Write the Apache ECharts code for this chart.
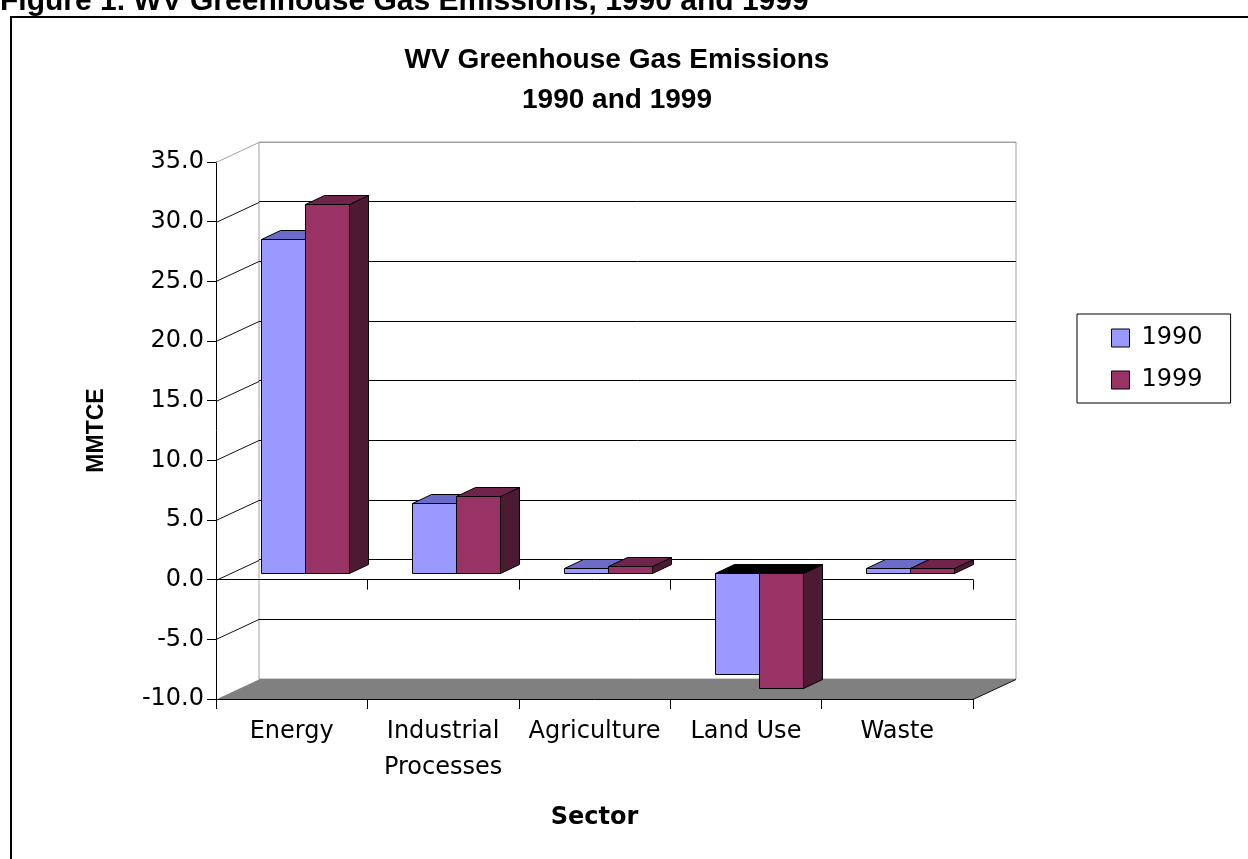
<!DOCTYPE html>
<html>
<head>
<meta charset="utf-8">
<script src="https://cdn.jsdelivr.net/npm/echarts@6/dist/echarts.min.js"></script>
<style>
html, body { margin: 0; padding: 0; background: #fff; }
#chart { width: 1248px; height: 859px; }
</style>
</head>
<body>
<div id="chart"></div>
<script>
var categories = ['Energy', 'Industrial\nProcesses', 'Agriculture', 'Land Use', 'Waste'];
var years = ['1990', '1999'];
var values1990 = [28.0, 5.8, 0.4, -8.5, 0.4];
var values1999 = [30.9, 6.4, 0.6, -9.7, 0.4];
var yMin = -10, yMax = 35, yStep = 5;
var wallTicks = [-5, 0, 5, 10, 15, 20, 25, 30, 35];

// fake 3d: front plane vs back wall offset, bar placement in depth
var FRONT = { left: 216, top: 162, width: 757, height: 537 };
var DX = 43, DY = -20;
var BAR_OX = 13, BAR_OY = -7;
var BAR_DX = 19, BAR_DY = -9;
var BAR_RATIO = 0.288;
var font = 'DejaVu Sans';

var chart = echarts.init(document.getElementById('chart'));

function barRenderer(side, faceCol, topCol, sideCol) {
	return function (params, api) {
		var idx = api.value(0), v = api.value(1);
		var base = api.coord([idx, 0]);
		var tip = api.coord([idx, v]);
		var bw = Math.round(api.size([1, 0])[0] * BAR_RATIO);
		var x0 = Math.round(base[0] + BAR_OX + (side === 0 ? -bw : 0)) + 0.5;
		var x1 = x0 + bw;
		var yTop = Math.round(Math.min(base[1], tip[1]) + BAR_OY) + 0.5;
		var yBot = Math.round(Math.max(base[1], tip[1]) + BAR_OY) + 0.5;
		var stroke = { stroke: '#000', lineWidth: 1 };
		return {
			type: 'group',
			children: [
				{ type: 'polygon', shape: { points: [[x1, yTop], [x1 + BAR_DX, yTop + BAR_DY], [x1 + BAR_DX, yBot + BAR_DY], [x1, yBot]] },
				  style: Object.assign({ fill: sideCol }, stroke) },
				{ type: 'polygon', shape: { points: [[x0, yTop], [x1, yTop], [x1 + BAR_DX, yTop + BAR_DY], [x0 + BAR_DX, yTop + BAR_DY]] },
				  style: Object.assign({ fill: v < 0 ? '#000' : topCol }, stroke) },
				{ type: 'rect', shape: { x: x0, y: yTop, width: bw, height: yBot - yTop },
				  style: Object.assign({ fill: faceCol }, stroke) }
			]
		};
	};
}

var option = {
	backgroundColor: '#fff',
	animation: false,
	title: {
		text: 'WV Greenhouse Gas Emissions\n1990 and 1999',
		left: 612,
		textAlign: 'center',
		top: 35,
		textStyle: { fontFamily: 'Liberation Sans', fontSize: 28, fontWeight: 'bold', color: '#000', lineHeight: 40 }
	},
	legend: {
		orient: 'vertical',
		left: 1077,
		top: 314,
		data: years,
		icon: 'rect',
		itemWidth: 18,
		itemHeight: 18,
		itemGap: 18,
		padding: [12, 28, 11, 34],
		borderColor: '#000',
		borderWidth: 1,
		selectedMode: false,
		itemStyle: { borderColor: '#000', borderWidth: 1 },
		textStyle: { fontFamily: font, fontSize: 24, color: '#000', lineHeight: 24, padding: [0, 0, 0, 7] }
	},
	graphic: [
		{ type: 'rect', silent: true, z: -10,
		  shape: { x: 11, y: 17, width: 1400, height: 1000 },
		  style: { fill: 'none', stroke: '#000', lineWidth: 2 } },
		{ type: 'text', x: 0, y: 2, silent: true,
		  style: { text: 'Figure 1. WV Greenhouse Gas Emissions, 1990 and 1999', font: 'bold 30px "Liberation Sans"', fill: '#000', verticalAlign: 'middle' } }
	],
	grid: [
		{ left: FRONT.left, top: FRONT.top, width: FRONT.width, height: FRONT.height },
		{ left: FRONT.left + DX, top: FRONT.top + DY, width: FRONT.width, height: FRONT.height,
		  show: true, borderColor: '#a0a0a0', borderWidth: 1, backgroundColor: 'transparent' }
	],
	xAxis: [
		{
			gridIndex: 0, type: 'category', data: categories,
			axisLine: { show: true, onZero: true, lineStyle: { color: '#000', width: 1 } },
			axisTick: { show: true, length: 10, lineStyle: { color: '#000', width: 1 } },
			axisLabel: { show: false }
		},
		{
			gridIndex: 0, type: 'category', data: categories, position: 'bottom', z: 3,
			axisLine: { show: true, onZero: false, lineStyle: { color: '#000', width: 1 } },
			axisTick: { show: true, length: 10, lineStyle: { color: '#000', width: 1 } },
			axisLabel: { interval: 0, margin: 15, fontFamily: font, fontSize: 24, color: '#000', lineHeight: 36 },
			name: 'Sector', nameLocation: 'middle', nameGap: 107,
			nameTextStyle: { fontFamily: font, fontSize: 24, fontWeight: 'bold', color: '#000' }
		},
		{ gridIndex: 1, type: 'category', data: categories, show: false }
	],
	yAxis: [
		{
			gridIndex: 0, type: 'value', min: yMin, max: yMax, interval: yStep,
			axisLine: { show: true, lineStyle: { color: '#000' } },
			axisTick: { show: true, length: 9, lineStyle: { color: '#000' } },
			axisLabel: { margin: 12, fontFamily: font, fontSize: 24, color: '#000', formatter: function (v) { return v.toFixed(1); } },
			splitLine: { show: false },
			name: 'MMTCE', nameLocation: 'middle', nameRotate: 90, nameGap: 108,
			nameTextStyle: { fontFamily: 'Liberation Sans', fontSize: 23, fontWeight: 'bold', color: '#000' }
		},
		{
			gridIndex: 1, type: 'value', min: yMin, max: yMax, interval: yStep,
			axisLine: { show: false }, axisTick: { show: false }, axisLabel: { show: false },
			splitLine: { show: true, lineStyle: { width: 1, color: ['#808080', '#000', '#000', '#000', '#000', '#000', '#000', '#000', '#000', '#a0a0a0'] } }
		}
	],
	series: [
		{
			type: 'custom', name: 'wall', xAxisIndex: 0, yAxisIndex: 0, z: 1, silent: true,
			data: wallTicks.map(function (v) { return [0, v]; }),
			renderItem: function (params, api) {
				var x = params.coordSys.x;
				var y = Math.round(api.coord([0, api.value(1)])[1]) + 0.5;
				return { type: 'line', shape: { x1: x, y1: y, x2: x + DX, y2: y + DY },
					style: { stroke: api.value(1) === yMax ? '#a0a0a0' : '#111', lineWidth: 1 } };
			}
		},
		{
			type: 'custom', name: 'floor', xAxisIndex: 0, yAxisIndex: 0, z: 2, silent: true,
			data: [[0, yMin]],
			renderItem: function (params, api) {
				var cs = params.coordSys;
				var y = Math.round(api.coord([0, api.value(1)])[1]) + 0.5;
				var xr = cs.x + cs.width;
				return {
					type: 'group',
					children: [
						{ type: 'polygon', shape: { points: [[cs.x, y], [xr, y], [xr + DX, y + DY], [cs.x + DX, y + DY]] },
						  style: { fill: '#808080' } },
						{ type: 'line', shape: { x1: xr, y1: y, x2: xr + DX, y2: y + DY }, style: { stroke: '#111', lineWidth: 1 } }
					]
				};
			}
		},
		{
			type: 'custom', name: '1990', xAxisIndex: 0, yAxisIndex: 0, z: 4,
			itemStyle: { color: '#9999FF' },
			encode: { x: 0, y: 1 },
			data: values1990.map(function (v, i) { return [i, v]; }),
			renderItem: barRenderer(0, '#9999FF', '#6B6BC8', '#4D4D80')
		},
		{
			type: 'custom', name: '1999', xAxisIndex: 0, yAxisIndex: 0, z: 4,
			itemStyle: { color: '#993366' },
			encode: { x: 0, y: 1 },
			data: values1999.map(function (v, i) { return [i, v]; }),
			renderItem: barRenderer(1, '#993366', '#70244B', '#4D1A33')
		}
	]
};

chart.setOption(option);
</script>
</body>
</html>
